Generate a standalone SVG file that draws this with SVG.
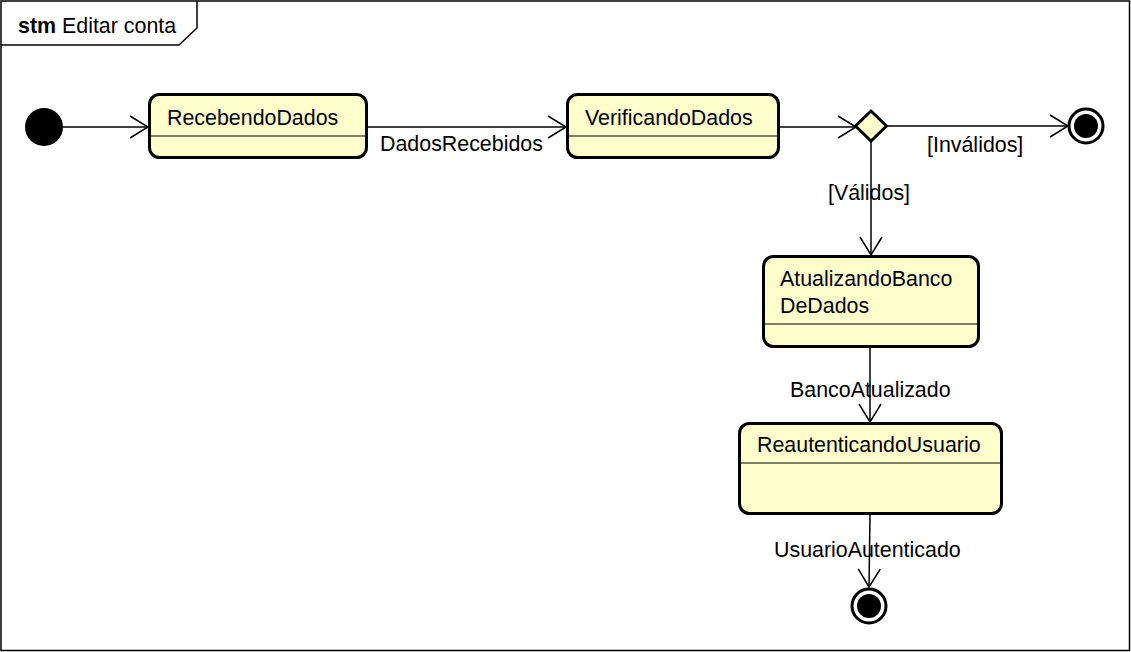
<svg xmlns="http://www.w3.org/2000/svg" width="1131" height="652" viewBox="0 0 1131 652">
<defs>
<style>
text{font-family:"Liberation Sans",Arial,sans-serif;font-size:21.4px;fill:#000}
.st{fill:#FFFFCC;stroke:#000;stroke-width:3}
.div{stroke:#000;stroke-width:1.2}
.con{fill:none;stroke:#000;stroke-width:1.5}
</style>
<marker id="arr" markerWidth="22" markerHeight="26" refX="19" refY="12" orient="auto" markerUnits="userSpaceOnUse">
<path d="M1,1 L19,12 L1,23" fill="none" stroke="#000" stroke-width="1.5"/>
</marker>
</defs>
<rect width="1131" height="652" fill="#fff"/>
<g id="frame">
<rect x="1" y="1" width="1128.5" height="649.5" fill="none" stroke="#000" stroke-width="1.5"/>
<path d="M1,45 H179 L197,28 V1" fill="none" stroke="#000" stroke-width="1.5"/>
<text x="18" y="33"><tspan font-weight="bold">stm</tspan> Editar conta</text>
</g>
<g id="connectors">
<path class="con" d="M63,127 H148" marker-end="url(#arr)"/>
<path class="con" d="M368,127 H566" marker-end="url(#arr)"/>
<text x="380" y="151">DadosRecebidos</text>
<path class="con" d="M780,127 H856" marker-end="url(#arr)"/>
<path class="con" d="M887,126 H1068" marker-end="url(#arr)"/>
<text x="927" y="152">[Inválidos]</text>
<path class="con" d="M871,141 V255" marker-end="url(#arr)"/>
<text x="828" y="200">[Válidos]</text>
<path class="con" d="M870,348 V422" marker-end="url(#arr)"/>
<text x="790" y="397">BancoAtualizado</text>
<path class="con" d="M870,515 L869,587" marker-end="url(#arr)"/>
<text x="774" y="557">UsuarioAutenticado</text>
</g>
<g id="initial">
<circle cx="44" cy="127" r="19" fill="#000"/>
</g>
<g id="RecebendoDados">
<rect class="st" x="149.5" y="94.5" width="217" height="63" rx="10"/>
<line class="div" x1="149.5" y1="136" x2="366.5" y2="136"/>
<text x="167" y="125">RecebendoDados</text>
</g>
<g id="VerificandoDados">
<rect class="st" x="567.5" y="94.5" width="211" height="63" rx="10"/>
<line class="div" x1="567.5" y1="136" x2="778.5" y2="136"/>
<text x="585" y="125">VerificandoDados</text>
</g>
<g id="decision">
<path d="M871,111 L886.5,126 L871,141 L855.5,126 Z" fill="#FFFFCC" stroke="#000" stroke-width="3" stroke-linejoin="miter"/>
</g>
<g id="final1">
<circle cx="1086" cy="126" r="17" fill="#fff" stroke="#000" stroke-width="3"/>
<circle cx="1086" cy="126" r="12" fill="#000"/>
</g>
<g id="AtualizandoBancoDeDados">
<rect class="st" x="763.5" y="256.5" width="215" height="90" rx="10"/>
<line class="div" x1="763.5" y1="324" x2="978.5" y2="324"/>
<text x="780" y="286">AtualizandoBanco</text>
<text x="780" y="313">DeDados</text>
</g>
<g id="ReautenticandoUsuario">
<rect class="st" x="739.5" y="423.5" width="262" height="90" rx="10"/>
<line class="div" x1="739.5" y1="463" x2="1001.5" y2="463"/>
<text x="757" y="452">ReautenticandoUsuario</text>
</g>
<g id="final2">
<circle cx="869" cy="606" r="17" fill="#fff" stroke="#000" stroke-width="3"/>
<circle cx="869" cy="606" r="12" fill="#000"/>
</g>
</svg>
